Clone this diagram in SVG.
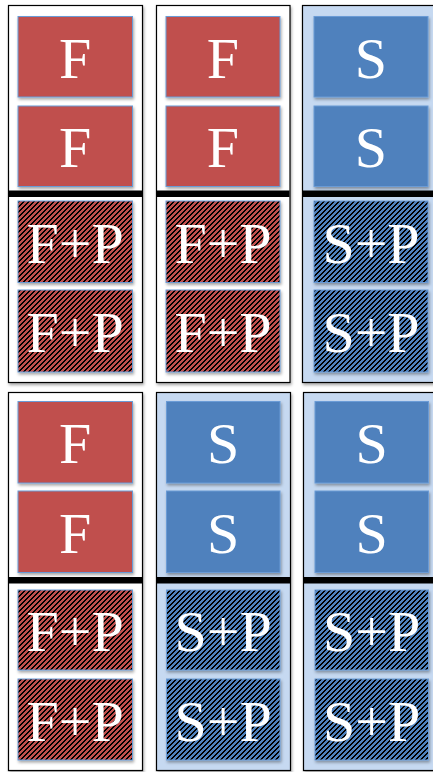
<svg xmlns="http://www.w3.org/2000/svg" width="433" height="772" viewBox="0 0 433 772">
<style>
.panel{fill:#ffffff;stroke:#000;stroke-width:1.2}
.panel.lb{fill:#c6d9f1}
.bar{fill:#000}
.f{fill:#c0504d;stroke:#6a9bd6;stroke-width:1}
.s{fill:#4f81bd;stroke:#6a9bd6;stroke-width:1}
.fp{fill:url(#hr);stroke:#6a9bd6;stroke-width:1}
.sp{fill:url(#hb);stroke:#6a9bd6;stroke-width:1}
.lbl{font-family:"Liberation Serif",Tinos,"Times New Roman",Times,serif;font-size:58px;fill:#fff;text-anchor:middle}
.sh{filter:url(#ds)}
.hk{fill:#000;shape-rendering:crispEdges}
</style>
<defs>
<filter id="ds" x="-10%" y="-10%" width="130%" height="130%">
<feDropShadow dx="1" dy="2" stdDeviation="1.5" flood-color="#000" flood-opacity="0.35"/>
</filter>
<pattern id="hr" patternUnits="userSpaceOnUse" width="5" height="5">
<rect width="5" height="5" fill="#c0504d"/>
<rect class="hk" x="4" y="0" width="1" height="1"/><rect class="hk" x="0" y="0" width="1" height="1"/>
<rect class="hk" x="3" y="1" width="2" height="1"/>
<rect class="hk" x="2" y="2" width="2" height="1"/>
<rect class="hk" x="1" y="3" width="2" height="1"/>
<rect class="hk" x="0" y="4" width="2" height="1"/>
</pattern>
<pattern id="hb" patternUnits="userSpaceOnUse" width="5" height="5">
<rect width="5" height="5" fill="#4f81bd"/>
<rect class="hk" x="4" y="0" width="1" height="1"/><rect class="hk" x="0" y="0" width="1" height="1"/>
<rect class="hk" x="3" y="1" width="2" height="1"/>
<rect class="hk" x="2" y="2" width="2" height="1"/>
<rect class="hk" x="1" y="3" width="2" height="1"/>
<rect class="hk" x="0" y="4" width="2" height="1"/>
</pattern>
</defs>

<g id="panel-top-1">
<rect class="panel sh" x="8.5" y="5.5" width="134" height="377"/>
<g id="n-t1-1"><rect class="f sh" x="18" y="16.5" width="114.5" height="80.5"/><text class="lbl" x="75.2" y="77.5">F</text></g>
<g id="n-t1-2"><rect class="f sh" x="18" y="106" width="114.5" height="80.5"/><text class="lbl" x="75.2" y="167">F</text></g>
<rect class="bar" x="9" y="190.5" width="133" height="6.5"/>
<g id="n-t1-3"><rect class="fp sh" x="18" y="201" width="114.5" height="81.5"/><text class="lbl" x="75.2" y="262.5">F+P</text></g>
<g id="n-t1-4"><rect class="fp sh" x="18" y="290" width="114.5" height="82"/><text class="lbl" x="75.2" y="352">F+P</text></g>
</g>

<g id="panel-top-2">
<rect class="panel sh" x="156.5" y="5.5" width="133.5" height="377"/>
<g id="n-t2-1"><rect class="f sh" x="166" y="16.5" width="114" height="80.5"/><text class="lbl" x="223" y="77.5">F</text></g>
<g id="n-t2-2"><rect class="f sh" x="166" y="106" width="114" height="80.5"/><text class="lbl" x="223" y="167">F</text></g>
<rect class="bar" x="157" y="190.5" width="132.5" height="6.5"/>
<g id="n-t2-3"><rect class="fp sh" x="166" y="201" width="114" height="81.5"/><text class="lbl" x="223" y="262.5">F+P</text></g>
<g id="n-t2-4"><rect class="fp sh" x="166" y="290" width="114" height="82"/><text class="lbl" x="223" y="352">F+P</text></g>
</g>

<g id="panel-top-3">
<rect class="panel lb sh" x="302.5" y="5.5" width="140" height="377"/>
<g id="n-t3-1"><rect class="s sh" x="314" y="16.5" width="114" height="80.5"/><text class="lbl" x="371" y="77.5">S</text></g>
<g id="n-t3-2"><rect class="s sh" x="314" y="106" width="114" height="80.5"/><text class="lbl" x="371" y="167">S</text></g>
<rect class="bar" x="303" y="190.5" width="135" height="6.5"/>
<g id="n-t3-3"><rect class="sp sh" x="314" y="201" width="114" height="81.5"/><text class="lbl" x="371" y="262.5">S+P</text></g>
<g id="n-t3-4"><rect class="sp sh" x="314" y="290" width="114" height="82"/><text class="lbl" x="371" y="352">S+P</text></g>
</g>

<g id="panel-bottom-1">
<rect class="panel sh" x="8.5" y="392.5" width="134" height="378"/>
<g id="n-b1-1"><rect class="f sh" x="18" y="401.5" width="114.5" height="81.5"/><text class="lbl" x="75.2" y="463">F</text></g>
<g id="n-b1-2"><rect class="f sh" x="18" y="491" width="114.5" height="81.5"/><text class="lbl" x="75.2" y="552.5">F</text></g>
<rect class="bar" x="9" y="577" width="133" height="6.5"/>
<g id="n-b1-3"><rect class="fp sh" x="18" y="590" width="114.5" height="80"/><text class="lbl" x="75.2" y="651">F+P</text></g>
<g id="n-b1-4"><rect class="fp sh" x="18" y="679" width="114.5" height="81"/><text class="lbl" x="75.2" y="740.5">F+P</text></g>
</g>

<g id="panel-bottom-2">
<rect class="panel lb sh" x="156.5" y="392.5" width="134" height="378"/>
<g id="n-b2-1"><rect class="s sh" x="166.5" y="401.5" width="113.5" height="81.5"/><text class="lbl" x="223.2" y="463">S</text></g>
<g id="n-b2-2"><rect class="s sh" x="166.5" y="491" width="113.5" height="81.5"/><text class="lbl" x="223.2" y="552.5">S</text></g>
<rect class="bar" x="157" y="577" width="133" height="6.5"/>
<g id="n-b2-3"><rect class="sp sh" x="166.5" y="590" width="113.5" height="80"/><text class="lbl" x="223.2" y="651">S+P</text></g>
<g id="n-b2-4"><rect class="sp sh" x="166.5" y="679" width="113.5" height="81"/><text class="lbl" x="223.2" y="740.5">S+P</text></g>
</g>

<g id="panel-bottom-3">
<rect class="panel lb sh" x="303.5" y="392.5" width="140" height="378"/>
<g id="n-b3-1"><rect class="s sh" x="315" y="401.5" width="113.5" height="81.5"/><text class="lbl" x="371.7" y="463">S</text></g>
<g id="n-b3-2"><rect class="s sh" x="315" y="491" width="113.5" height="81.5"/><text class="lbl" x="371.7" y="552.5">S</text></g>
<rect class="bar" x="304" y="577" width="135" height="6.5"/>
<g id="n-b3-3"><rect class="sp sh" x="315" y="590" width="113.5" height="80"/><text class="lbl" x="371.7" y="651">S+P</text></g>
<g id="n-b3-4"><rect class="sp sh" x="315" y="679" width="113.5" height="81"/><text class="lbl" x="371.7" y="740.5">S+P</text></g>
</g>
</svg>
